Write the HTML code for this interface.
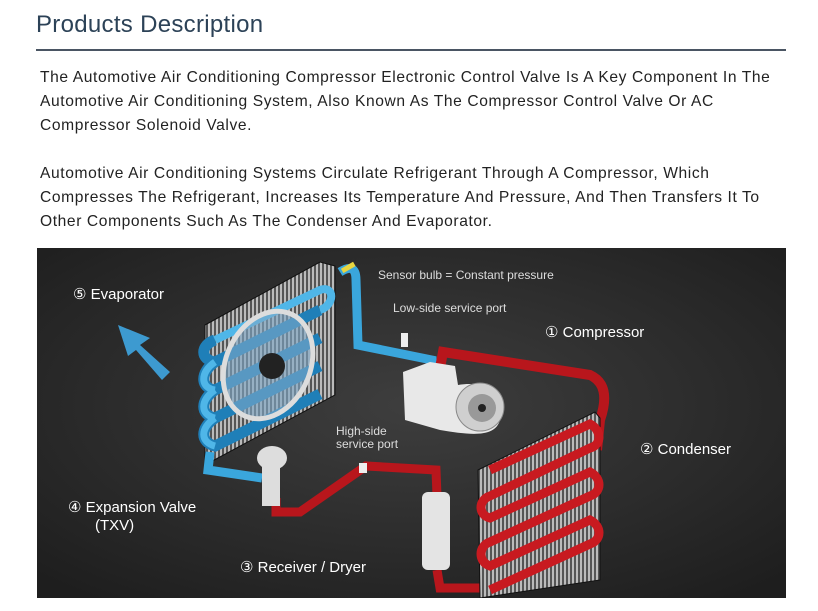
<!DOCTYPE html>
<html><head><meta charset="utf-8"><style>
body{margin:0;width:818px;height:611px;background:#fff;font-family:"Liberation Sans",sans-serif;position:relative;overflow:hidden}
h1{position:absolute;left:36px;top:11px;margin:0;font-weight:normal;font-size:24px;letter-spacing:0.3px;color:#2c4257}
.rule{position:absolute;left:36px;top:49px;width:750px;height:2px;background:#4a5563}
p{position:absolute;left:40px;margin:0;font-size:15.6px;letter-spacing:0.6px;line-height:24px;color:#222;white-space:nowrap}
svg{position:absolute;left:37px;top:248px}
</style></head><body>
<h1>Products Description</h1>
<div class="rule"></div>
<p style="top:66px">The Automotive Air Conditioning Compressor Electronic Control Valve Is A Key Component In The<br>Automotive Air Conditioning System, Also Known As The Compressor Control Valve Or AC<br>Compressor Solenoid Valve.</p>
<p style="top:162px">Automotive Air Conditioning Systems Circulate Refrigerant Through A Compressor, Which<br>Compresses The Refrigerant, Increases Its Temperature And Pressure, And Then Transfers It To<br>Other Components Such As The Condenser And Evaporator.</p>
<svg width="749" height="350" viewBox="37 248 749 350">
<defs>
<radialGradient id="bg" cx="0.5" cy="0.45" r="0.7"><stop offset="0" stop-color="#3e3e3e"/><stop offset="1" stop-color="#1e1e1e"/></radialGradient>
<pattern id="fin" width="4" height="4" patternUnits="userSpaceOnUse"><rect width="4" height="4" fill="#555"/><rect width="2" height="4" fill="#bbb"/></pattern>
</defs>
<rect x="37" y="248" width="749" height="350" fill="url(#bg)"/>
<!-- evaporator -->
<polygon points="205,325 320,262 335,266 335,395 205,465" fill="url(#fin)" stroke="#111"/>
<path d="M215,340 C200,345 200,360 215,362 L320,310 M215,362 C200,372 200,388 215,390 L320,338 M215,390 C200,400 200,415 215,418 L320,366 M215,418 C200,428 200,442 215,446 L320,394" stroke="#1f7fb8" stroke-width="11" fill="none"/>
<path d="M215,340 L320,290 C335,285 335,305 320,310" stroke="#4fb6e8" stroke-width="8" fill="none"/>
<path d="M215,362 C200,372 200,388 215,390 M215,390 C200,400 200,415 215,418 M215,418 C200,428 200,442 215,446" stroke="#4fb6e8" stroke-width="7" fill="none"/>
<ellipse cx="268" cy="365" rx="42" ry="56" transform="rotate(25 268 365)" fill="#7fa8c8" fill-opacity="0.6" stroke="#ddd" stroke-width="5"/>
<circle cx="272" cy="366" r="13" fill="#222"/>
<path d="M170,372 L140,345 L150,338 L118,325 L128,356 L136,350 L162,380Z" fill="#3d9ad0"/>
<!-- blue pipes -->
<path d="M340,272 Q356,262 356,280 L358,345 L432,360 L432,372" stroke="#3aa6dc" stroke-width="9" fill="none"/>
<path d="M210,452 L208,470 L262,478" stroke="#3aa6dc" stroke-width="9" fill="none"/>
<rect x="341" y="265" width="14" height="5" fill="#e8d640" transform="rotate(-30 348 267)"/>
<rect x="401" y="333" width="7" height="14" fill="#eee"/>
<!-- red pipes -->
<path d="M440,368 L443,352 L590,375 Q612,385 600,420 L597,450" stroke="#b8161c" stroke-width="10" fill="none"/>
<path d="M437,496 L436,470 L366,466 L300,512 L276,512 L276,498" stroke="#b8161c" stroke-width="9" fill="none"/>
<path d="M437,570 L440,588 L480,588" stroke="#b8161c" stroke-width="9" fill="none"/>
<!-- compressor -->
<path d="M403,372 L430,362 L455,366 L458,385 C490,380 505,395 500,420 C495,438 470,435 440,430 L405,420Z" fill="#e8e8e8"/>
<circle cx="480" cy="407" r="24" fill="#cfcfcf" stroke="#888"/><circle cx="482" cy="408" r="14" fill="#999"/><circle cx="482" cy="408" r="4" fill="#222"/>
<!-- condenser -->
<polygon points="478,470 595,412 600,418 600,580 480,598" fill="url(#fin)" stroke="#111"/>
<path d="M490,470 L590,424 C602,430 602,445 590,448 L490,496 C478,500 478,515 490,518 L590,472 C602,478 602,492 590,496 L490,542 C478,546 478,562 490,566 L590,520 C602,526 602,540 590,544 L490,590" stroke="#c81a20" stroke-width="9" fill="none"/>
<!-- receiver -->
<rect x="422" y="492" width="28" height="78" rx="6" fill="#e4e4e4"/>
<!-- valve -->
<ellipse cx="272" cy="458" rx="15" ry="12" fill="#ddd"/><rect x="262" y="462" width="18" height="44" fill="#ddd"/>
<rect x="359" y="463" width="8" height="10" fill="#eee"/>
<g fill="#fff" font-family="Liberation Sans,sans-serif">
<text x="73" y="299" font-size="15">⑤ Evaporator</text>
<text x="545" y="337" font-size="15">① Compressor</text>
<text x="640" y="454" font-size="15">② Condenser</text>
<text x="68" y="512" font-size="15">④ Expansion Valve</text>
<text x="95" y="530" font-size="15">(TXV)</text>
<text x="240" y="572" font-size="15">③ Receiver / Dryer</text>
<g font-size="12" fill="#ddd">
<text x="378" y="279">Sensor bulb = Constant pressure</text>
<text x="393" y="312">Low-side service port</text>
<text x="336" y="435">High-side</text>
<text x="336" y="448">service port</text>
</g></g>
</svg>
</body></html>
